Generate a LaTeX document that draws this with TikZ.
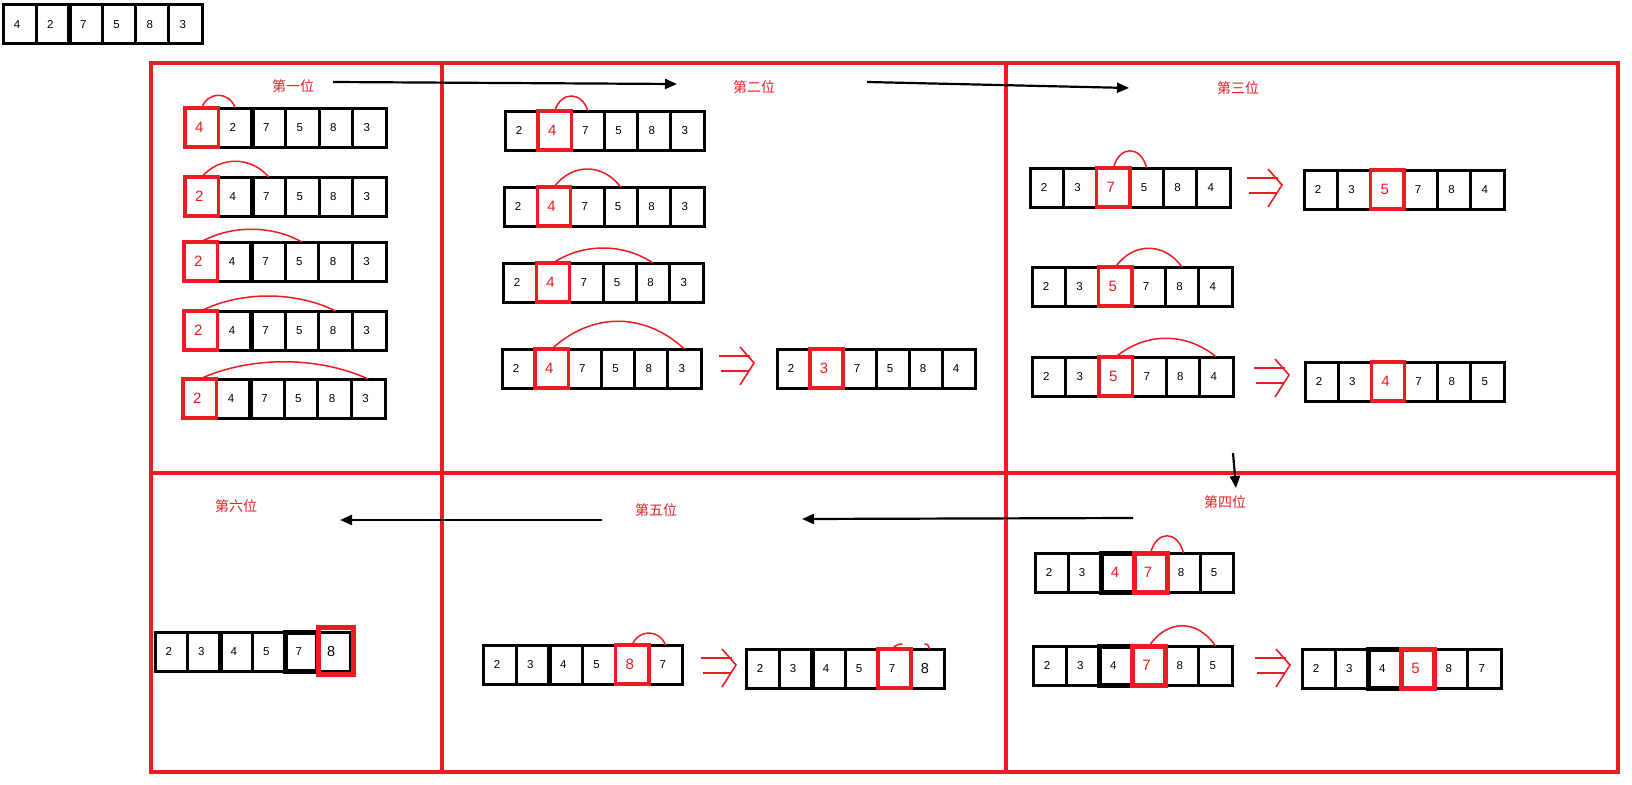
\documentclass[tikz,border=0pt]{standalone}
\usepackage{fontspec}
\setmainfont{Liberation Sans}
\newfontfamily\cjk{Noto Sans CJK SC}
\usetikzlibrary{arrows.meta}
\definecolor{pred}{HTML}{ED1C24}

\newcommand\R[1]{\textcolor{pred}{\fontsize{15}{15}\selectfont #1}}
\newcommand\B[1]{{\fontsize{14.5}{15}\selectfont #1}}

\tikzset{
 cellbox/.style={draw=black, line width=3pt, minimum height=39pt, inner sep=0pt, outer sep=0pt, font=\fontsize{11.5}{12}\selectfont, fill=white},
 redbox/.style={draw=pred, line width=3.5pt},
 thickblk/.style={draw=black, line width=5pt},
 frame/.style={draw=pred, line width=4.5pt},
 title/.style={text=pred, font=\cjk\fontsize{14}{14}\selectfont, inner sep=0pt},
 flow/.style={draw=black, line width=2.2pt, -{Triangle[length=12pt,width=10pt]}},
 swap/.style={draw=pred, line width=1.5pt},
 impl/.style={draw=pred, line width=1.6pt},
}

% #1 name, #2 x left, #3 y top, #4 total width, #5 list
\newcommand\arr[5]{%
  \foreach \v [count=\i from 0] in {#5} {
    \node[cellbox, minimum width={#4/6}] (#1-\i) at ({#2+(\i+0.5)*#4/6}, {#3+19.5}) {\kern-5pt\v};
  }%
}
\newcommand\redcell[1]{\draw[redbox] (#1.north west) rectangle (#1.south east);}
\newcommand\septhick[1]{\draw[thickblk] (#1.north east) -- (#1.south east);}
\newcommand\swaparc[4]{\draw[swap] (#1.north) .. controls +(#3,-#4) and +(-#3,-#4) .. (#2.north);}
\newcommand\implies[2]{%
  \draw[impl] ({#1},{#2+9}) -- ({#1+31},{#2+9});
  \draw[impl] ({#1+2},{#2+24}) -- ({#1+30},{#2+24});
  \draw[impl] ({#1+21},{#2}) -- ({#1+35},{#2+16}) -- ({#1+21},{#2+38});
}

\begin{document}
\begin{tikzpicture}[x=1pt,y=-1pt]
\useasboundingbox[fill=white] (0,0) rectangle (1632,784);

% initial array
\arr{init}{3}{5}{199}{4,2,7,5,8,3}
\septhick{init-1}

% frame
\draw[frame] (151,63) rectangle (1618,772);
\draw[frame] (442,63) -- (442,772);
\draw[frame] (1006,63) -- (1006,772);
\draw[frame] (151,473) -- (1618,473);

% titles
\node[title] (t1) at (293,86) {第一位};
\node[title] (t2) at (754,87) {第二位};
\node[title] (t3) at (1238,88) {第三位};
\node[title] (t4) at (1225,502) {第四位};
\node[title] (t5) at (656,510) {第五位};
\node[title] (t6) at (236,506) {第六位};

% flow arrows
\coordinate (f1s) at (333,82);  \coordinate (f1e) at (677,84);
\coordinate (f2s) at (867,82);  \coordinate (f2e) at (1129,88);
\coordinate (f3s) at (1233,453); \coordinate (f3e) at (1236,488);
\coordinate (f4s) at (1133,518); \coordinate (f4e) at (802,519);
\coordinate (f5s) at (602,520);  \coordinate (f5e) at (340,520);
\draw[flow] (f1s) -- (f1e);
\draw[flow] (f2s) -- (f2e);
\draw[flow] (f3s) -- (f3e);
\draw[flow] (f4s) -- (f4e);
\draw[flow] (f5s) -- (f5e);

% ---------- panel 1
\arr{p1a}{185}{108}{201}{\R{4},2,7,5,8,3}
\arr{p1b}{185}{177}{201}{\R{2},4,7,5,8,3}
\arr{p1c}{184}{242}{202}{\R{2},4,7,5,8,3}
\arr{p1d}{184}{311}{202}{\R{2},4,7,5,8,3}
\arr{p1e}{183}{379}{202}{\R{2},4,7,5,8,3}
\foreach \r in {a,b,c,d,e} {\septhick{p1\r-1}}
\foreach \r in {a,b,c,d,e} {\redcell{p1\r-0}}
\swaparc{p1a-0}{p1a-1}{6}{17}
\swaparc{p1b-0}{p1b-2}{18}{21}
\swaparc{p1c-0}{p1c-3}{30}{17}
\swaparc{p1d-0}{p1d-4}{40}{20}
\swaparc{p1e-0}{p1e-5}{50}{23}

% ---------- panel 2
\arr{p2a}{505}{111}{199}{2,\R{4},7,5,8,3}
\arr{p2b}{504}{187}{200}{2,\R{4},7,5,8,3}
\arr{p2c}{503}{263}{200}{2,\R{4},7,5,8,3}
\arr{p2d}{502}{349}{199}{2,\R{4},7,5,8,3}
\arr{p2r}{777}{349}{198}{2,\R{3},7,5,8,4}
\foreach \r in {a,b,c,d,r} {\redcell{p2\r-1}}
\swaparc{p2a-1}{p2a-2}{6}{20}
\swaparc{p2b-1}{p2b-3}{18}{24}
\swaparc{p2c-1}{p2c-4}{30}{20}
\swaparc{p2d-1}{p2d-5}{40}{37}
\implies{719}{347}

% ---------- panel 3
\arr{p3a}{1030}{168}{200}{2,3,\R{7},5,8,4}
\arr{p3ar}{1304}{170}{200}{2,3,\R{5},7,8,4}
\arr{p3b}{1032}{267}{200}{2,3,\R{5},7,8,4}
\arr{p3c}{1032}{357}{201}{2,3,\R{5},7,8,4}
\arr{p3cr}{1305}{362}{199}{2,3,\R{4},7,8,5}
\foreach \r in {a,ar,b,c,cr} {\redcell{p3\r-2}}
\swaparc{p3a-2}{p3a-3}{6}{23}
\swaparc{p3b-2}{p3b-4}{18}{25}
\swaparc{p3c-2}{p3c-5}{30}{25}
\implies{1247}{169}
\implies{1254}{359}

% ---------- panel 4
\arr{p4a}{1035}{553}{198}{2,3,\R{4},\R{7},8,5}
\arr{p4b}{1033}{646}{199}{2,3,4,\R{7},8,5}
\arr{p4br}{1302}{649}{199}{2,3,4,\R{5},8,7}
\foreach \r in {a,b,br} {\draw[thickblk] (p4\r-2.north west) rectangle (p4\r-2.south east);}
\foreach \r in {a,b,br} {\draw[redbox, line width=5pt] (p4\r-3.north west) rectangle (p4\r-3.south east);}
\swaparc{p4a-3}{p4a-4}{6}{23}
\swaparc{p4b-3}{p4b-5}{18}{27}
\implies{1255}{649}

% ---------- panel 5
\arr{p5a}{483}{645}{199}{2,3,4,5,\R{8},7}
\arr{p5ar}{746}{649}{198}{2,3,4,5,7,\B{8}}
\septhick{p5a-1}
\septhick{p5ar-1}
\redcell{p5a-4}
\redcell{p5ar-4}
\swaparc{p5a-4}{p5a-5}{6}{16}
\draw[swap] ([xshift=-2pt]p5ar-4.north) .. controls +(2,-4) and +(-3,0) .. ([xshift=8pt,yshift=5pt]p5ar-4.north);
\draw[swap] ([xshift=-3pt,yshift=5pt]p5ar-5.north) .. controls +(4,0) and +(-1,-3) .. ([xshift=2pt]p5ar-5.north);
\implies{701}{649}

% ---------- panel 6
\arr{p6}{155}{632}{195}{2,3,4,5,7,\B{8}}
\septhick{p6-1}
\draw[thickblk] (p6-4.north west) rectangle (p6-4.south east);
\draw[redbox, line width=5pt] ([xshift=1pt,yshift=5pt]p6-5.north west) rectangle ([xshift=3pt,yshift=-3pt]p6-5.south east);

\end{tikzpicture}
\end{document}
